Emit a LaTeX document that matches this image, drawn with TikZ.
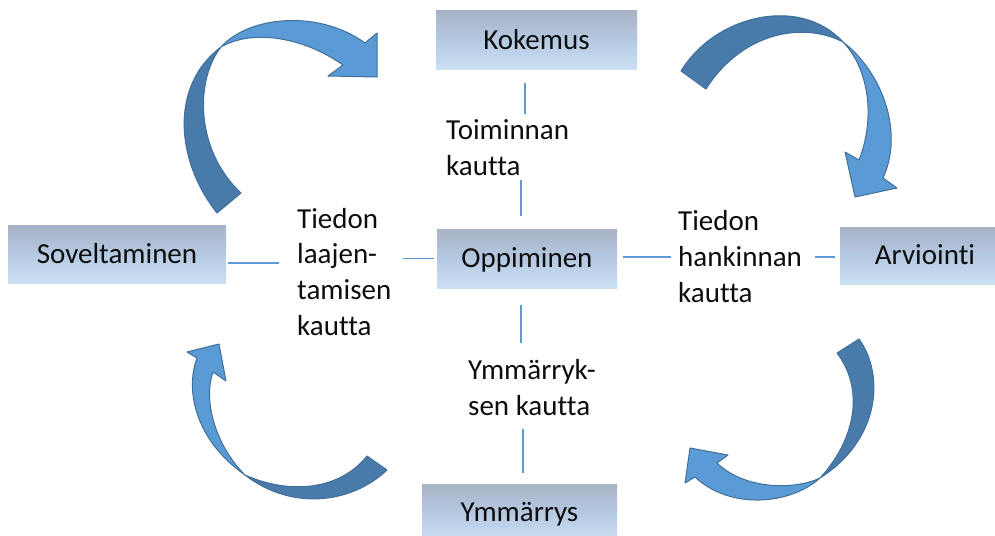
\documentclass[tikz,border=0pt]{standalone}
\usepackage{fontspec}
\setmainfont{Carlito}[Ligatures=NoCommon]
\usetikzlibrary{calc}

\definecolor{arrowlight}{RGB}{91,155,213}
\definecolor{arrowdark}{RGB}{72,122,170}
\definecolor{arrowedge}{RGB}{64,111,155}
\definecolor{boxtop}{RGB}{168,178,198}
\definecolor{boxmid}{RGB}{181,201,226}
\definecolor{boxbot}{RGB}{203,224,243}
\definecolor{linkblue}{RGB}{91,155,213}
\definecolor{ink}{RGB}{13,13,13}

\begin{document}
\begin{tikzpicture}[x=1pt,y=-1pt,
  bigtext/.style={font=\fontsize{29}{35.6}\selectfont, text=ink},
  stage/.style={bigtext, rectangle, inner sep=0pt, text height=18.7pt,
    text depth=0pt, top color=boxtop, bottom color=boxbot, middle color=boxmid},
  caption/.style={bigtext, align=left, inner sep=0pt, anchor=base west},
  link/.style={draw=linkblue, line width=1.3pt},
  back/.style={fill=arrowdark, draw=arrowedge, line width=1pt, line join=round},
  front/.style={fill=arrowlight, draw=arrowedge, line width=1pt, line join=round}]

\useasboundingbox (0,0) rectangle (995,535);
\fill[white] (0,0) rectangle (995,535);

% stage boxes
\node[stage, minimum width=201pt, minimum height=58pt] (kok) at (536.5,40) {Kokemus};
\node[stage, minimum width=218pt, minimum height=58pt] (sov) at (117,254) {Soveltaminen};
\node[stage, minimum width=180pt, minimum height=59pt] (opp) at (527,258.5) {Oppiminen};
\node[stage, minimum width=170pt, minimum height=57pt] (arv) at (925,255.5) {Arviointi};
\node[stage, minimum width=195pt, minimum height=57pt] (ymm) at (519.5,512.6) {Ymmärrys};

% captions, placed by the baseline of their last line
\node[caption] (toim) at (446,175) {Toiminnan\\kautta};
\node[caption] (laaj) at (297,335) {Tiedon\\laajen-\\tamisen\\kautta};
\node[caption] (hank) at (678,302) {Tiedon\\hankinnan\\kautta};
\node[caption] (ymmk) at (468,415) {Ymmärryk-\\sen kautta};

% thin links around the centre
\draw[link] ($(kok.south)+(-11.5,14)$) -- ++(0,31);
\draw[link] ($(opp.north)+(-6,-13)$) -- ++(0,-36);
\draw[link] ($(opp.south)+(-6,17)$) -- ++(0,38);
\draw[link] ($(ymm.north)+(3.5,-11)$) -- ++(0,-44);
\draw[link] ($(sov.east)+(2,9)$) -- ++(51,0);
\draw[link] ($(opp.west)+(-3,0)$) -- ++(-31,0);
\draw[link] ($(opp.east)+(6,-1.5)$) -- ++(48,0);
\draw[link] ($(arv.west)+(-5,1.5)$) -- ++(-20,0);

% curved arrow, upper left
\draw[back] (217,213) .. controls (175,160) and (170,85) .. (221,47)
  .. controls (195,80) and (195,150) .. (241,193) -- cycle;
\draw[front] (221,47) .. controls (250,15) and (320,10) .. (365,43)
  -- (377,33) -- (377,77) -- (328,76) -- (343,65)
  .. controls (300,35) and (250,30) .. (221,47) -- cycle;

% curved arrow, upper right
\draw[back] (681,71) .. controls (715,15) and (800,-5) .. (843,42)
  .. controls (800,20) and (740,35) .. (706,89) -- cycle;
\draw[front] (843,42) .. controls (880,70) and (905,130) .. (883,178)
  -- (897,188) -- (855,197) -- (845,152) -- (859,160)
  .. controls (875,120) and (870,70) .. (843,42) -- cycle;

% curved arrow, lower left
\draw[back] (387,470) .. controls (350,505) and (290,510) .. (245,475)
  .. controls (290,495) and (340,490) .. (367,456) -- cycle;
\draw[front] (245,475) .. controls (195,440) and (185,390) .. (197,358)
  -- (187,352) -- (219,344) -- (226,381) -- (213,372)
  .. controls (203,400) and (215,445) .. (245,475) -- cycle;

% curved arrow, lower right
\draw[back] (859,339) .. controls (885,375) and (880,440) .. (820,478)
  .. controls (855,440) and (865,390) .. (837,353) -- cycle;
\draw[front] (820,478) .. controls (790,505) and (730,510) .. (695,477)
  -- (685,483) -- (690,448) -- (728,455) -- (717,463)
  .. controls (745,490) and (795,490) .. (820,478) -- cycle;
\end{tikzpicture}
\end{document}
